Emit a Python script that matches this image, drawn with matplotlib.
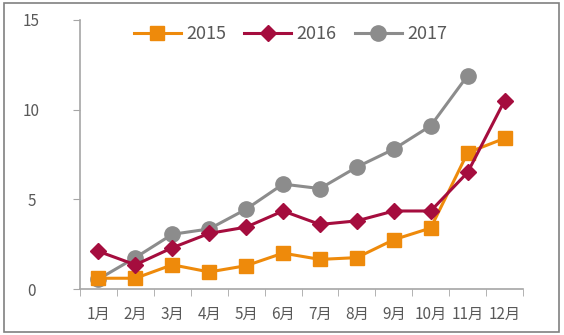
import matplotlib
matplotlib.use("Agg")
import matplotlib.pyplot as plt
from matplotlib.patches import Rectangle

plt.rcParams['font.family'] = ['Noto Sans CJK SC', 'DejaVu Sans']

months = ['1月', '2月', '3月', '4月', '5月', '6月', '7月', '8月', '9月', '10月', '11月', '12月']
s2015 = [0.6, 0.6, 1.35, 0.95, 1.3, 2.0, 1.65, 1.75, 2.75, 3.4, 7.6, 8.4]
s2016 = [2.1, 1.35, 2.3, 3.1, 3.45, 4.35, 3.6, 3.8, 4.35, 4.35, 6.5, 10.5]
s2017 = [0.55, 1.75, 3.05, 3.35, 4.45, 5.85, 5.6, 6.8, 7.8, 9.1, 11.9]
yticks = [0, 5, 10, 15]

fig = plt.figure(figsize=(5.64, 3.35), dpi=100)
ax = fig.add_axes([80/564, 46/335, 443/564, 269/335])

x = list(range(len(months)))
ax.plot(x, s2015, color='#EE8A0B', lw=2.2, marker='s', ms=10, label='2015', zorder=3)
ax.plot(x, s2016, color='#A50D3E', lw=2.2, marker='D', ms=8, label='2016', zorder=4)
ax.plot(x[:len(s2017)], s2017, color='#8C8C8C', lw=2.2, marker='o', ms=11, label='2017', zorder=2)

ax.set_xlim(-0.5, len(months) - 0.5)
ax.set_ylim(0, 15)
ax.set_yticks(yticks)
ax.set_yticklabels([str(v) for v in yticks])
ax.set_xticks(x)
ax.set_xticklabels(months)
ax.set_xticks([i + 0.5 for i in range(-1, len(months))], minor=True)
ax.tick_params(axis='x', which='major', length=0, pad=12, labelsize=11, colors='#595959')
ax.tick_params(axis='x', which='minor', length=5, color='#A6A6A6', direction='out')
ax.tick_params(axis='y', length=5, color='#A6A6A6', labelsize=11, labelcolor='#595959', pad=30)
for lab in ax.get_yticklabels():
    lab.set_horizontalalignment('center')
for s in ['top', 'right']:
    ax.spines[s].set_visible(False)
for s in ['left', 'bottom']:
    ax.spines[s].set_color('#A6A6A6')
    ax.spines[s].set_linewidth(1.2)

leg = ax.legend(loc='upper center', bbox_to_anchor=(0.475, 1.04), ncol=3, frameon=False,
                fontsize=13, handlelength=2.6, columnspacing=1.0, handletextpad=0.3)
for t in leg.get_texts():
    t.set_color('#595959')

fig.patches.append(Rectangle((4/564, 3/335), 555/564, 329/335, transform=fig.transFigure,
                             fill=False, edgecolor='#808080', lw=1.2))
fig.savefig('out.png', dpi=100, facecolor='white')
